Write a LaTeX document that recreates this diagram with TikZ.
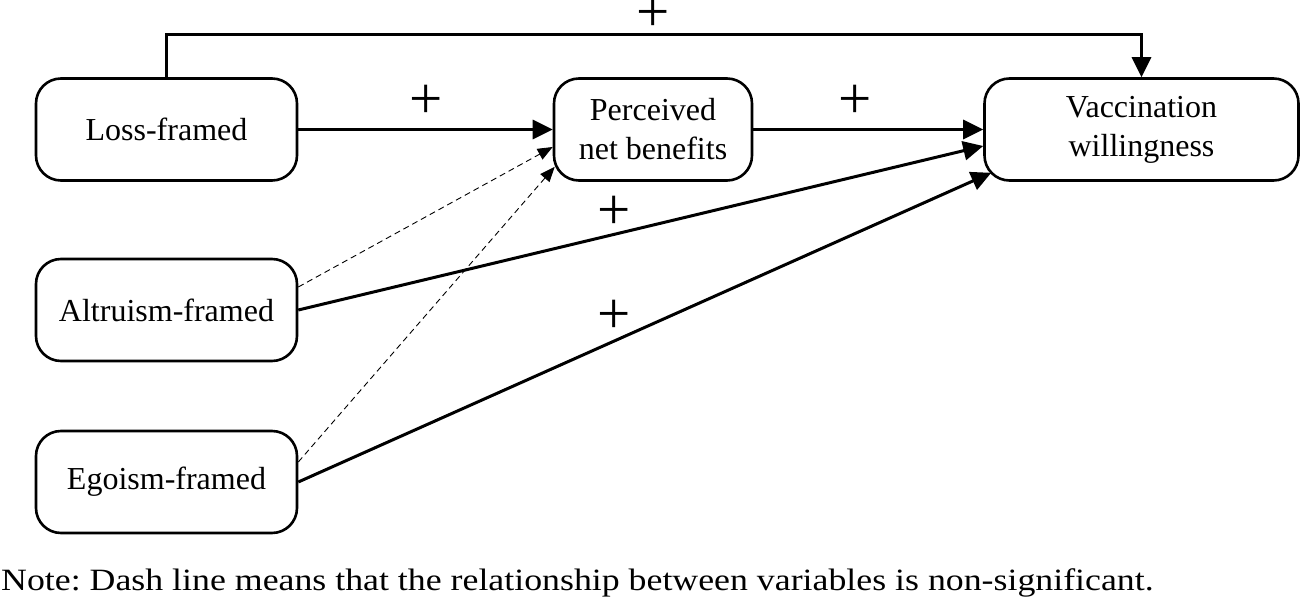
\documentclass[tikz,border=0pt]{standalone}
\usepackage{fontspec}
\setmainfont{Liberation Serif}
\newfontfamily\notefont[FakeStretch=1.155]{Liberation Serif}
\usetikzlibrary{arrows.meta}
\begin{document}
\begin{tikzpicture}[x=1pt,y=-1pt,
  box/.style={draw, line width=2.6pt, rounded corners=25pt, align=center,
    inner sep=0pt, font=\fontsize{32}{39}\selectfont},
  solidarrow/.style={line width=3pt, -{Triangle[length=20pt,width=19pt]}},
  dasharrow/.style={line width=0.9pt, dash pattern=on 6pt off 4pt,
    -{Triangle[length=15pt,width=12pt]}},
  plus/.style={inner sep=0pt, font=\fontsize{59}{59}\selectfont}]
\useasboundingbox (0,0) rectangle (1300,601);
\node[box, minimum width=261pt, minimum height=102pt] (loss) at (166.5,129.5) {Loss-framed};
\node[box, minimum width=261pt, minimum height=102pt] (altr) at (166.5,310) {Altruism-framed};
\node[box, minimum width=261pt, minimum height=102pt] (ego) at (166.5,482) {Egoism-framed};
\node[box, minimum width=198pt, minimum height=102pt] (perc) at (653,129.5) {Perceived\\net benefits};
\node[box, minimum width=314pt, minimum height=102pt] (vacc) at (1141.5,129.5) {Vaccination\\willingness};
\coordinate (topline) at (0,35);
\draw[solidarrow] (loss.north) -- (loss.north |- topline) -| (vacc.north);
\draw[solidarrow] (loss.east) -- (perc.west);
\draw[solidarrow] (perc.east) -- (vacc.west);
\draw[solidarrow] (altr.east) -- ([yshift=-16.5pt]vacc.west);
\draw[solidarrow] (ego.east) -- ([xshift=8pt,yshift=9pt]vacc.south west);
\draw[dasharrow] ([yshift=23pt]altr.east) -- ([yshift=-17.5pt]perc.west);
\draw[dasharrow] ([yshift=20pt]ego.east) -- ([xshift=2pt,yshift=15pt]perc.south west);
\node[plus] (p1) at (653,15) {+};
\node[plus] (p2) at (426,102) {+};
\node[plus] (p3) at (855,102) {+};
\node[plus] (p4) at (614,213) {+};
\node[plus] (p5) at (614,317) {+};
\node[anchor=base west, inner sep=0pt, font=\notefont\fontsize{31}{39}\selectfont\frenchspacing] (note) at (1,590)
  {Note: Dash line means that the relationship between variables is non-significant.};
\end{tikzpicture}
\end{document}
